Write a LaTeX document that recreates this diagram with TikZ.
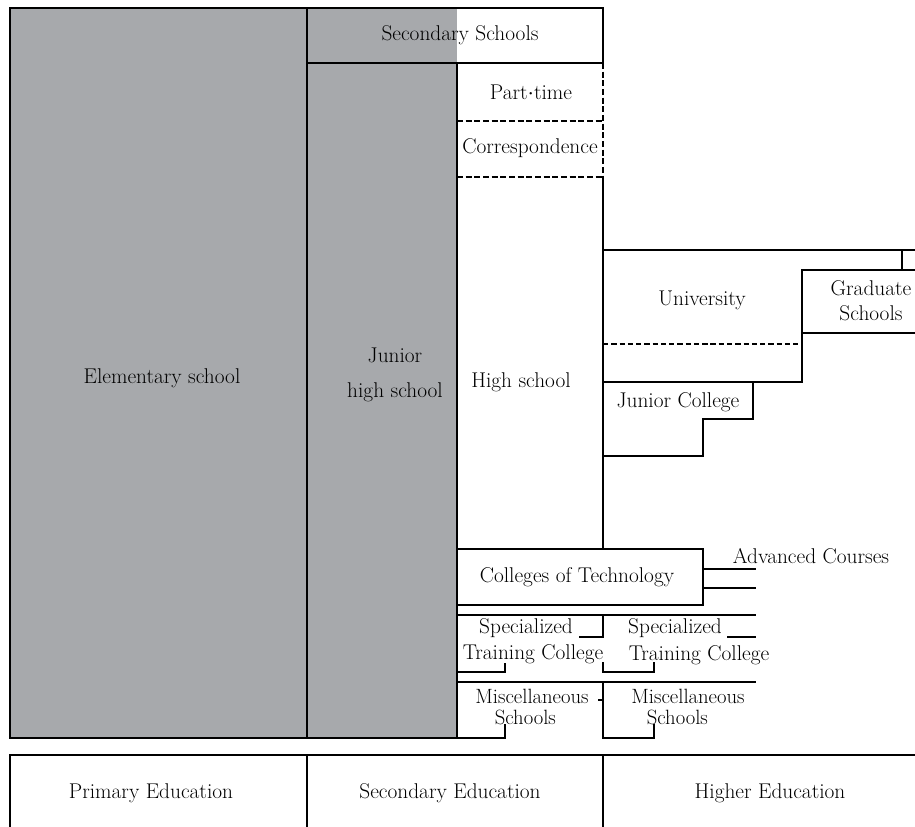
\documentclass[tikz,border=0pt]{standalone}
\usepackage{tikz}
\definecolor{schoolgray}{RGB}{167,169,172}
\tikzset{
  px/.style={x=0.75pt,y=-0.75pt},
  ln/.style={line width=1.1pt,line cap=rect,black},
  thickdash/.style={line width=1.2pt,dash pattern=on 4.5pt off 2pt},
  thindash/.style={line width=0.8pt,dash pattern=on 4pt off 2.2pt},
  lbl/.style={inner sep=0pt,font=\fontsize{16}{18}\selectfont},
  lblc/.style={inner sep=0pt,font=\fontsize{16}{26}\selectfont,align=center},
  lbltight/.style={inner sep=0pt,font=\fontsize{15.5}{16}\selectfont,align=center},
}
\begin{document}
\begin{tikzpicture}[px]
\useasboundingbox (0,0) rectangle (915,827);
% gray areas
\fill[schoolgray] (10,8) rectangle (307,738);
\fill[schoolgray] (307,8) rectangle (457,738);
% main outlines
\draw[ln] (10,8) rectangle (307,738);
\draw[ln] (307,63) rectangle (457,738);
\draw[ln] (307,8) rectangle (603,63);
% part-time / correspondence
\draw[thickdash] (603,63) -- (603,177);
\draw[thickdash] (457,121) -- (603,121);
\draw[thickdash] (457,177) -- (603,177);
% high school right border
\draw[ln] (603,177) -- (603,549);
% university and graduate schools
\draw[ln] (603,250) -- (915,250);
\draw[ln] (902,250) -- (902,270);
\draw[ln] (915,270) -- (802,270) -- (802,382) -- (603,382);
\draw[ln] (802,333) -- (915,333);
\draw[thindash] (603,344) -- (802,344);
% junior college
\draw[ln] (753,382) -- (753,419) -- (703,419) -- (703,456) -- (603,456);
% colleges of technology
\draw[ln] (457,549) rectangle (703,605);
\draw[ln] (703,569) -- (755,569);
\draw[ln] (703,588) -- (755,588);
% specialized training colleges
\draw[ln] (457,615) -- (755,615);
\draw[ln] (580,637) -- (603,637) -- (603,615);
\draw[ln] (728,637) -- (755,637);
\draw[ln] (457,672) -- (505,672) -- (505,664);
\draw[ln] (603,663) -- (603,672) -- (654,672) -- (654,663);
% miscellaneous schools
\draw[ln] (457,682) -- (755,682);
\draw[ln] (599,700) -- (603,700);
\draw[ln] (603,682) -- (603,738) -- (654,738) -- (654,725);
\draw[ln] (10,738) -- (505,738) -- (505,725);
% bottom table
\draw[ln] (10,827) -- (10,755) -- (915,755);
\draw[ln] (307,755) -- (307,827);
\draw[ln] (603,755) -- (603,827);
% labels
\node[lbl] (secsch) at (460,35) {Secondary Schools};
\node[lbl] (parttime) at (531,92) {Part$\cdot$time};
\node[lbl] (corr) at (530,148) {Correspondence};
\node[lbl] (elem) at (162,378) {Elementary school};
\node[lblc] (jhs) at (395,375) {Junior\\high school};
\node[lbl] (hs) at (521,382) {High school};
\node[lbl] (univ) at (702,300) {University};
\node[lblc,font=\fontsize{16}{19}\selectfont] (grad) at (871,301) {Graduate\\Schools};
\node[lbl] (jc) at (678,402) {Junior College};
\node[lbl] (cot) at (577,577) {Colleges of Technology};
\node[lbl] (adv) at (811,556) {Advanced Courses};
\node[lbl] (spl) at (526,628) {Specialized};
\node[lbl] (tcl) at (533,654) {Training College};
\node[lbl] (spr) at (675,628) {Specialized};
\node[lbl] (tcr) at (699,655) {Training College};
\node[lbltight] (miscl) at (532,707) {Miscellaneous\\Schools\hspace*{10pt}};
\node[lbltight] (miscr) at (688,707) {Miscellaneous\\Schools\hspace*{16pt}};
\node[lbl] (prim) at (151,793) {Primary Education};
\node[lbl] (secedu) at (450,793) {Secondary Education};
\node[lbl] (highedu) at (770,793) {Higher Education};
\end{tikzpicture}
\end{document}
